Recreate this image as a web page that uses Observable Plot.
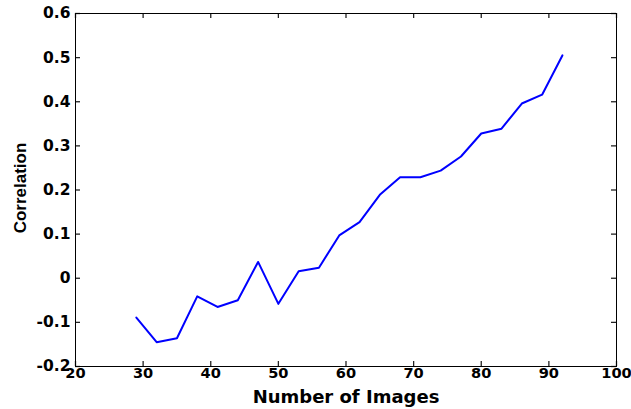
<!DOCTYPE html>
<html>
<head>
<meta charset="utf-8">
<script src="https://cdn.jsdelivr.net/npm/d3@7"></script>
<script src="https://cdn.jsdelivr.net/npm/@observablehq/plot@0.6"></script>
<style>
  html, body { margin: 0; padding: 0; background: #fff; }
  #chart svg { display: block; }
</style>
</head>
<body>
<div id="chart"></div>
<script>
const numImages = [29, 32, 35, 38, 41, 44, 47, 50, 53, 56, 59, 62, 65, 68, 71, 74, 77, 80, 83, 86, 89, 92];
const correlation = [-0.089, -0.145, -0.136, -0.041, -0.065, -0.05, 0.037, -0.058, 0.016, 0.024, 0.097, 0.127, 0.189, 0.229, 0.229, 0.244, 0.276, 0.328, 0.339, 0.396, 0.416, 0.505];
const xTicks = [20, 30, 40, 50, 60, 70, 80, 90, 100];
const yTicks = [-0.2, -0.1, 0, 0.1, 0.2, 0.3, 0.4, 0.5, 0.6];
const xLabel = "Number of Images";
const yLabel = "Correlation";

const data = numImages.map((x, i) => ({x, y: correlation[i]}));
const fmt = d => String(+d.toFixed(1));

const W = 631, H = 409;
const mL = 75, mR = 15, mT = 13, mB = 43;
const innerW = W - mL - mR, innerH = H - mT - mB;
const tk = 5;

const chart = Plot.plot({
  width: W,
  height: H,
  marginLeft: mL,
  marginRight: mR,
  marginTop: mT,
  marginBottom: mB,
  style: {background: "#fff", color: "#000", fontFamily: "'DejaVu Sans', sans-serif"},
  x: {domain: [20, 100], label: null},
  y: {domain: [-0.2, 0.6], label: null},
  marks: [
    Plot.axisX(xTicks, {tickSize: 0, tickPadding: 1, tickFormat: fmt, fontSize: 14.6, fontWeight: "bold", label: null}),
    Plot.axisY(yTicks, {tickSize: 0, tickPadding: 5, tickFormat: fmt, fontSize: 15.5, fontWeight: "bold", label: null}),
    Plot.tickX(xTicks, {x: d => d, insetTop: innerH - tk, stroke: "#222", strokeWidth: 1.3}),
    Plot.tickX(xTicks, {x: d => d, insetBottom: innerH - tk, stroke: "#222", strokeWidth: 1.3}),
    Plot.tickY(yTicks, {y: d => d, insetRight: innerW - tk, stroke: "#222", strokeWidth: 1.3}),
    Plot.tickY(yTicks, {y: d => d, insetLeft: innerW - tk, stroke: "#222", strokeWidth: 1.3}),
    Plot.frame({stroke: "#000"}),
    Plot.lineY(data, {x: "x", y: "y", stroke: "#0000ff", strokeWidth: 2}),
    Plot.text([xLabel], {text: d => d, frameAnchor: "bottom", textAnchor: "middle", lineAnchor: "middle", dy: 31, fontSize: 18, fontWeight: "bold"}),
    Plot.text([yLabel], {text: d => d, frameAnchor: "left", textAnchor: "middle", lineAnchor: "middle", dx: -55, dy: -2, rotate: -90, fontSize: 17, fontWeight: "bold", fontFamily: "'Liberation Sans', Arial, sans-serif"})
  ]
});
document.getElementById("chart").appendChild(chart);
</script>
</body>
</html>
